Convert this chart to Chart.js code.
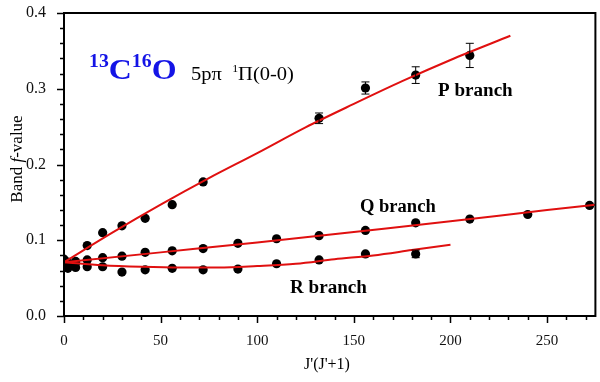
<!DOCTYPE html>
<html>
<head>
<meta charset="utf-8">
<script src="https://cdn.jsdelivr.net/npm/chart.js@4"></script>
<style>
  html, body { margin: 0; padding: 0; background: #fff; }
  #wrap { width: 600px; height: 382px; }
</style>
</head>
<body>
<div id="wrap"><canvas id="c" width="600" height="382"></canvas></div>
<script>
// J'(J'+1) and band f-values
const pX = [2, 6, 12, 20, 30, 42, 56, 72, 132, 156, 182, 210];
const pY = [0.068, 0.072, 0.093, 0.110, 0.119, 0.129, 0.147, 0.177, 0.261, 0.301, 0.318, 0.344];
const pErr = [0, 0, 0, 0, 0, 0, 0, 0, 0.007, 0.008, 0.011, 0.016];

const qX = [0, 2, 6, 12, 20, 30, 42, 56, 72, 90, 110, 132, 156, 182, 210, 240, 272];
const qY = [0.075, 0.071, 0.070, 0.074, 0.077, 0.079, 0.084, 0.086, 0.089, 0.096, 0.102, 0.106, 0.113, 0.123, 0.128, 0.134, 0.146];

const rX = [0, 2, 6, 12, 20, 30, 42, 56, 72, 90, 110, 132, 156, 182];
const rY = [0.065, 0.063, 0.064, 0.065, 0.065, 0.058, 0.061, 0.063, 0.061, 0.062, 0.069, 0.074, 0.082, 0.082];
const rErr = [0, 0, 0, 0, 0, 0, 0, 0, 0, 0, 0, 0, 0, 0.005];

// fitted curves (red)
const pFitX = [0, 25, 50, 75, 100, 125, 150, 175, 200, 231];
const pFitY = [0.071, 0.110, 0.147, 0.182, 0.215, 0.249, 0.280, 0.310, 0.338, 0.370];
const qFitX = [0, 50, 100, 150, 200, 250, 275];
const qFitY = [0.071, 0.084, 0.097, 0.111, 0.125, 0.140, 0.147];
const rFitX = [0, 20, 40, 60, 80, 100, 120, 140, 160, 180, 200];
const rFitY = [0.071, 0.067, 0.065, 0.064, 0.064, 0.066, 0.069, 0.075, 0.080, 0.087, 0.094];

const xTickLabels = [0, 50, 100, 150, 200, 250];
const yTickLabels = [0.0, 0.1, 0.2, 0.3, 0.4];

const SERIF = '"Liberation Serif", "Times New Roman", serif';
const RED = '#e01010';

const pts = (xs, ys) => xs.map((x, i) => ({ x: x, y: ys[i] }));

function scatterSet(xs, ys, errs) {
    return {
        type: 'scatter',
        data: pts(xs, ys),
        errors: errs || null,
        pointRadius: 4.6,
        pointBackgroundColor: '#000',
        pointBorderWidth: 0,
        order: 2
    };
}

function fitSet(xs, ys) {
    return {
        type: 'line',
        data: pts(xs, ys),
        borderColor: RED,
        borderWidth: 2,
        pointRadius: 0,
        fill: false,
        tension: 0.4,
        cubicInterpolationMode: 'monotone',
        order: 1
    };
}

// draws text pieces [text, font, dy] one after another, stretched sideways by sx
function drawRun(ctx, parts, x, y, sx) {
    ctx.save();
    ctx.translate(x, y);
    ctx.scale(sx, 1);
    let cx = 0;
    parts.forEach(([s, f, dy]) => {
        ctx.font = f;
        ctx.fillText(s, cx, dy || 0);
        cx += ctx.measureText(s).width;
    });
    ctx.restore();
}

// error bars, frame, tick marks and text labels
const decor = {
    id: 'decor',
    afterDatasetsDraw(chart) {
        const ctx = chart.ctx;
        const xs = chart.scales.x, ys = chart.scales.y;
        ctx.save();
        ctx.strokeStyle = '#000';
        ctx.lineWidth = 1;
        chart.data.datasets.forEach(ds => {
            if (!ds.errors) return;
            ds.data.forEach((p, i) => {
                const e = ds.errors[i];
                if (!e) return;
                const px = xs.getPixelForValue(p.x);
                const y1 = ys.getPixelForValue(p.y + e);
                const y2 = ys.getPixelForValue(p.y - e);
                ctx.beginPath();
                ctx.moveTo(px, y1); ctx.lineTo(px, y2);
                ctx.moveTo(px - 4, y1); ctx.lineTo(px + 4, y1);
                ctx.moveTo(px - 4, y2); ctx.lineTo(px + 4, y2);
                ctx.stroke();
            });
        });
        ctx.restore();
    },
    afterDraw(chart) {
        const ctx = chart.ctx;
        const a = chart.chartArea;
        const xs = chart.scales.x, ys = chart.scales.y;
        ctx.save();
        ctx.strokeStyle = '#000';
        ctx.lineWidth = 2;
        ctx.strokeRect(a.left, a.top, a.right - a.left, a.bottom - a.top);

        // outward ticks, long for labelled values
        ctx.lineWidth = 1.5;
        ctx.beginPath();
        xs.ticks.forEach(t => {
            const px = Math.round(xs.getPixelForValue(t.value)) + 0.5;
            const len = xTickLabels.includes(t.value) ? 7 : 4;
            ctx.moveTo(px, a.bottom); ctx.lineTo(px, a.bottom + len);
        });
        ys.ticks.forEach(t => {
            const py = Math.round(ys.getPixelForValue(t.value)) + 0.5;
            const major = yTickLabels.some(v => Math.abs(v - t.value) < 1e-6);
            ctx.moveTo(a.left, py); ctx.lineTo(a.left - (major ? 7 : 4), py);
        });
        ctx.stroke();

        ctx.textBaseline = 'alphabetic';
        ctx.textAlign = 'left';

        // molecule label
        ctx.fillStyle = '#1414e6';
        drawRun(ctx, [['13', 'bold 18px ' + SERIF, -12], ['C', 'bold 29px ' + SERIF],
                      ['16', 'bold 18px ' + SERIF, -12], ['O', 'bold 29px ' + SERIF]], 89, 79, 1.1);
        ctx.fillStyle = '#000';
        drawRun(ctx, [['5p\u03c0  ', '19px ' + SERIF], ['1', '11px ' + SERIF, -8],
                      ['\u03a0(0-0)', '19px ' + SERIF]], 191, 80, 1.08);

        // branch labels
        drawRun(ctx, [['P branch', 'bold 18px ' + SERIF]], 438, 96, 1.06);
        drawRun(ctx, [['Q branch', 'bold 18px ' + SERIF]], 360, 212, 1.03);
        drawRun(ctx, [['R branch', 'bold 18px ' + SERIF]], 290, 293, 1.06);

        // axis titles
        ctx.font = '16px ' + SERIF;
        ctx.textAlign = 'center';
        ctx.fillText("J'(J'+1)", 327, 369);

        ctx.translate(22, 159);
        ctx.rotate(-Math.PI / 2);
        const ySegs = [['Band ', '17px ' + SERIF], ['f', 'italic 17px ' + SERIF], ['-value', '17px ' + SERIF]];
        let tw = 0;
        ySegs.forEach(([s, f]) => { ctx.font = f; tw += ctx.measureText(s).width; });
        ctx.textAlign = 'left';
        drawRun(ctx, ySegs, -tw / 2, 0, 1);
        ctx.restore();
    }
};

new Chart(document.getElementById('c'), {
    data: {
        datasets: [
            scatterSet(pX, pY, pErr),
            scatterSet(qX, qY),
            scatterSet(rX, rY, rErr),
            fitSet(pFitX, pFitY),
            fitSet(qFitX, qFitY),
            fitSet(rFitX, rFitY)
        ]
    },
    options: {
        responsive: false,
        animation: false,
        layout: { padding: { top: 13, right: 2, left: 0, bottom: 0 } },
        plugins: { legend: { display: false }, tooltip: { enabled: false } },
        scales: {
            x: {
                type: 'linear',
                min: 0,
                max: 275,
                grid: { display: false },
                border: { display: false },
                afterBuildTicks: s => {
                    const t = [];
                    for (let v = 0; v <= 270; v += 10) t.push({ value: v });
                    s.ticks = t;
                },
                afterFit: s => {
                    s.height = 66;
                    s.paddingLeft = 0; s.paddingRight = 0;
                },
                ticks: {
                    autoSkip: false,
                    maxRotation: 0,
                    padding: 8,
                    color: '#111',
                    font: { family: SERIF, size: 15 },
                    callback: v => xTickLabels.includes(v) ? String(v) : ''
                }
            },
            y: {
                type: 'linear',
                min: 0,
                max: 0.4,
                grid: { display: false },
                border: { display: false },
                afterBuildTicks: s => {
                    const t = [];
                    for (let i = 0; i <= 20; i++) t.push({ value: i * 0.02 });
                    s.ticks = t;
                },
                afterFit: s => {
                    s.width = 64;
                    s.paddingTop = 0; s.paddingBottom = 0;
                },
                ticks: {
                    autoSkip: false,
                    padding: 10,
                    color: '#111',
                    font: { family: SERIF, size: 16 },
                    callback: v => yTickLabels.some(l => Math.abs(l - v) < 1e-6) ? v.toFixed(1) : ''
                }
            }
        }
    },
    plugins: [decor]
});
</script>
</body>
</html>
